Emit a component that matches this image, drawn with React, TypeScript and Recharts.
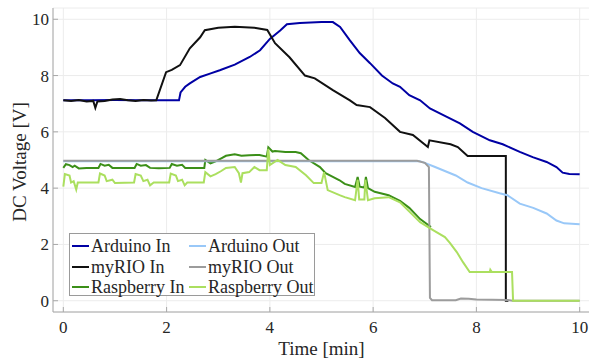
import { LineChart, Line, XAxis, YAxis, CartesianGrid, Legend } from "recharts";

const timeTicks = [0, 2, 4, 6, 8, 10];
const voltTicks = [0, 2, 4, 6, 8, 10];

// [time (min), voltage (V)]
const arduinoIn = [
  [0, 7.12], [0.5, 7.12], [1.0, 7.13], [1.5, 7.12], [2.0, 7.12], [2.24, 7.12], [2.27, 7.4],
  [2.36, 7.6], [2.45, 7.72], [2.65, 7.95], [2.84, 8.07], [3.03, 8.19], [3.32, 8.39], [3.61, 8.66],
  [3.81, 8.9], [4.0, 9.3], [4.2, 9.6], [4.33, 9.82], [4.58, 9.87], [5.0, 9.9], [5.22, 9.9],
  [5.36, 9.73], [5.55, 9.25], [5.74, 8.8], [5.94, 8.44], [6.17, 8.0], [6.38, 7.72], [6.52, 7.6],
  [6.7, 7.3], [6.91, 7.12], [7.1, 6.83], [7.35, 6.6], [7.68, 6.3], [7.93, 6.0], [8.26, 5.7],
  [8.51, 5.56], [8.84, 5.29], [9.09, 5.1], [9.36, 4.93], [9.55, 4.75], [9.67, 4.55], [9.8, 4.5],
  [10, 4.49],
];

const myrioIn = [
  [0, 7.12], [0.15, 7.1], [0.3, 7.13], [0.45, 7.08], [0.58, 7.1], [0.62, 6.85], [0.66, 7.08],
  [0.8, 7.1], [0.95, 7.15], [1.1, 7.17], [1.25, 7.12], [1.4, 7.1], [1.55, 7.13], [1.7, 7.11],
  [1.8, 7.12], [1.99, 8.12], [2.1, 8.2], [2.26, 8.37], [2.45, 8.97], [2.65, 9.36], [2.74, 9.61],
  [3.0, 9.7], [3.32, 9.73], [3.7, 9.7], [3.95, 9.62], [4.1, 9.15], [4.38, 8.65], [4.68, 8.0],
  [4.87, 7.9], [5.22, 7.48], [5.55, 7.12], [5.68, 6.95], [5.94, 6.88], [6.23, 6.49], [6.52, 6.0],
  [6.77, 5.89], [7.06, 5.46], [7.09, 5.7], [7.5, 5.56], [7.64, 5.46], [7.83, 5.14], [8.57, 5.14],
  [8.57, 0], [8.62, 0],
];

const raspberryIn = [
  [0, 4.72], [0.05, 4.85], [0.12, 4.82], [0.18, 4.75], [0.22, 4.8], [0.3, 4.7], [0.45, 4.72],
  [0.68, 4.72], [0.72, 4.86], [0.8, 4.8], [0.88, 4.83], [0.95, 4.72], [1.1, 4.72], [1.38, 4.72],
  [1.42, 4.86], [1.5, 4.8], [1.6, 4.82], [1.68, 4.72], [1.85, 4.71], [2.06, 4.72], [2.1, 4.86],
  [2.2, 4.8], [2.3, 4.83], [2.36, 4.72], [2.6, 4.72], [2.73, 4.72], [2.75, 5.0], [2.85, 4.88],
  [2.95, 4.95], [3.05, 5.05], [3.15, 5.15], [3.32, 5.2], [3.45, 5.15], [3.6, 5.17], [3.8, 5.18],
  [3.94, 5.12], [3.97, 5.45], [4.05, 5.3], [4.1, 5.32], [4.3, 5.28], [4.5, 5.28], [4.6, 5.24],
  [4.75, 5.0], [4.97, 4.75], [5.08, 4.53], [5.22, 4.4], [5.35, 4.28], [5.45, 4.15], [5.65, 4.04],
  [5.7, 4.4], [5.74, 4.05], [5.83, 4.02], [5.86, 4.4], [5.9, 4.0], [6.03, 3.87], [6.3, 3.75],
  [6.52, 3.55], [6.7, 3.3], [6.91, 2.9], [7.12, 2.62],
];

const arduinoOut = [
  [0, 4.96], [2, 4.96], [4, 4.96], [6, 4.96], [6.9, 4.96], [7.0, 4.9], [7.2, 4.75], [7.4, 4.6],
  [7.6, 4.45], [7.83, 4.2], [8.1, 4.0], [8.45, 3.82], [8.6, 3.75], [8.84, 3.45], [9.1, 3.3],
  [9.36, 3.1], [9.55, 2.85], [9.7, 2.75], [10, 2.72],
];

const myrioOut = [
  [0, 4.97], [6.85, 4.97], [7.0, 4.9], [7.08, 4.75], [7.1, 0.1], [7.14, 0.02], [7.6, 0.02],
  [7.7, 0.08], [7.85, 0.07], [8.0, 0.04], [8.6, 0.03], [8.7, 0], [10, 0],
];

const raspberryOut = [
  [0, 4.05], [0.03, 4.5], [0.12, 4.45], [0.15, 4.2], [0.2, 4.25], [0.25, 3.95], [0.28, 4.2],
  [0.5, 4.2], [0.68, 4.2], [0.71, 4.52], [0.8, 4.45], [0.84, 4.25], [0.95, 4.3], [1.0, 4.18],
  [1.37, 4.2], [1.4, 4.5], [1.5, 4.45], [1.55, 4.25], [1.63, 4.3], [1.68, 4.1], [1.75, 4.2],
  [2.05, 4.2], [2.08, 4.52], [2.18, 4.45], [2.22, 4.25], [2.3, 4.3], [2.35, 4.1], [2.4, 4.2],
  [2.72, 4.2], [2.75, 4.57], [2.85, 4.42], [2.95, 4.5], [3.05, 4.6], [3.15, 4.72], [3.32, 4.75],
  [3.4, 4.53], [3.44, 4.2], [3.47, 4.53], [3.6, 4.57], [3.7, 4.75], [3.8, 4.64], [3.94, 4.64],
  [3.97, 5.4], [4.0, 4.82], [4.15, 5.0], [4.3, 4.82], [4.5, 4.75], [4.7, 4.46], [4.85, 4.18],
  [5.0, 4.18], [5.05, 4.57], [5.12, 3.93], [5.35, 3.75], [5.45, 3.68], [5.65, 3.57], [5.7, 4.3],
  [5.73, 3.6], [5.83, 3.6], [5.85, 4.3], [5.9, 3.57], [6.03, 3.64], [6.3, 3.68], [6.52, 3.5],
  [6.91, 2.79], [7.16, 2.51], [7.39, 2.26], [7.49, 2.05], [7.62, 1.73], [7.74, 1.37], [7.87, 1.02],
  [8.26, 1.02], [8.27, 1.1], [8.3, 1.02], [8.69, 1.02], [8.71, 0], [10, 0],
];

const toPoints = (pairs: number[][]) => pairs.map(([t, v]) => ({ t, v }));

// draw order (later on top)
const series = [
  { name: "Arduino In", color: "#0000a4", data: arduinoIn },
  { name: "myRIO In", color: "#111111", data: myrioIn },
  { name: "Raspberry In", color: "#3b8f18", data: raspberryIn },
  { name: "Arduino Out", color: "#99c8f8", data: arduinoOut },
  { name: "myRIO Out", color: "#9c9c9c", data: myrioOut },
  { name: "Raspberry Out", color: "#abdf5f", data: raspberryOut },
];

const legendRows = [
  ["Arduino In", "Arduino Out"],
  ["myRIO In", "myRIO Out"],
  ["Raspberry In", "Raspberry Out"],
];

const FONT = '"Liberation Serif", "Times New Roman", serif';
const AXIS = "#a8a8a8";
const TEXT = "#262626";

const colorOf = (name: string) => series.find((s) => s.name === name)?.color;

const LegendBox = () => (
  <div
    style={{
      position: "relative",
      width: 244,
      height: 61,
      border: "1px solid #9a9a9a",
      background: "#fff",
      fontFamily: FONT,
      fontSize: 18,
      color: TEXT,
    }}
  >
    {legendRows.map((row, r) =>
      row.map((name, c) => (
        <div
          key={name}
          style={{
            position: "absolute",
            left: c === 0 ? 2 : 119,
            top: 2 + r * 20.5,
            height: 20.5,
            display: "flex",
            alignItems: "center",
            whiteSpace: "nowrap",
            lineHeight: 1,
          }}
        >
          <span style={{ display: "inline-block", width: 17, height: 2, background: colorOf(name), marginRight: 2 }} />
          <span>{name}</span>
        </div>
      ))
    )}
  </div>
);

const XLabel = ({ viewBox }: any) => (
  <text x={viewBox.x + viewBox.width / 2} y={viewBox.y + 43} textAnchor="middle" fontFamily={FONT} fontSize={19} fill={TEXT}>
    Time [min]
  </text>
);

const YLabel = ({ viewBox }: any) => {
  const x = viewBox.x + 26;
  const y = viewBox.y + viewBox.height / 2 + 2;
  return (
    <text x={x} y={y} transform={`rotate(-90 ${x} ${y})`} textAnchor="middle" fontFamily={FONT} fontSize={19} fill={TEXT}>
      DC Voltage [V]
    </text>
  );
};

// tick labels: x axis below the tick point, y axis to the left of it
const XTick = ({ x, y, payload }: any) => (
  <text x={x} y={y} dy={12} textAnchor="middle" fontFamily={FONT} fontSize={17} fill={TEXT}>
    {payload.value}
  </text>
);

const YTick = ({ x, y, payload }: any) => (
  <text x={x} y={y} dy={6} textAnchor="end" fontFamily={FONT} fontSize={17} fill={TEXT}>
    {payload.value}
  </text>
);

export default function App() {
  return (
    <div style={{ width: 589, height: 360, overflow: "hidden", position: "relative", background: "#fff" }}>
      <style>{"body{margin:0}"}</style>
      <LineChart width={591} height={360} margin={{ top: 8, right: 1, bottom: 0, left: 0 }}>
        <CartesianGrid stroke="#ececec" strokeWidth={1} />
        <XAxis
          type="number"
          dataKey="t"
          domain={[-0.2, 10.2]}
          ticks={timeTicks}
          allowDataOverflow
          height={48}
          stroke={AXIS}
          tickSize={-5}
          tickMargin={14}
          tick={XTick}
          label={XLabel}
        />
        <XAxis
          xAxisId="top"
          orientation="top"
          type="number"
          dataKey="t"
          domain={[-0.2, 10.2]}
          ticks={timeTicks}
          allowDataOverflow
          height={0}
          stroke={AXIS}
          tickSize={-5}
          tick={false}
        />
        <YAxis
          type="number"
          domain={[-0.4, 10.4]}
          ticks={voltTicks}
          allowDataOverflow
          width={53}
          stroke={AXIS}
          tickSize={-5}
          tickMargin={9}
          tick={YTick}
          label={YLabel}
        />
        <YAxis
          yAxisId="right"
          orientation="right"
          type="number"
          domain={[-0.4, 10.4]}
          ticks={voltTicks}
          allowDataOverflow
          width={0}
          stroke={AXIS}
          tickSize={-5}
          tick={false}
        />
        <Legend
          layout="horizontal"
          verticalAlign="middle"
          align="center"
          content={LegendBox}
          wrapperStyle={{ left: 69, top: 233, width: 246, height: 63 }}
        />
        {series.map((s) => (
          <Line
            key={s.name}
            name={s.name}
            data={toPoints(s.data)}
            dataKey="v"
            type="linear"
            stroke={s.color}
            strokeWidth={2}
            dot={false}
            isAnimationActive={false}
          />
        ))}
      </LineChart>
    </div>
  );
}
